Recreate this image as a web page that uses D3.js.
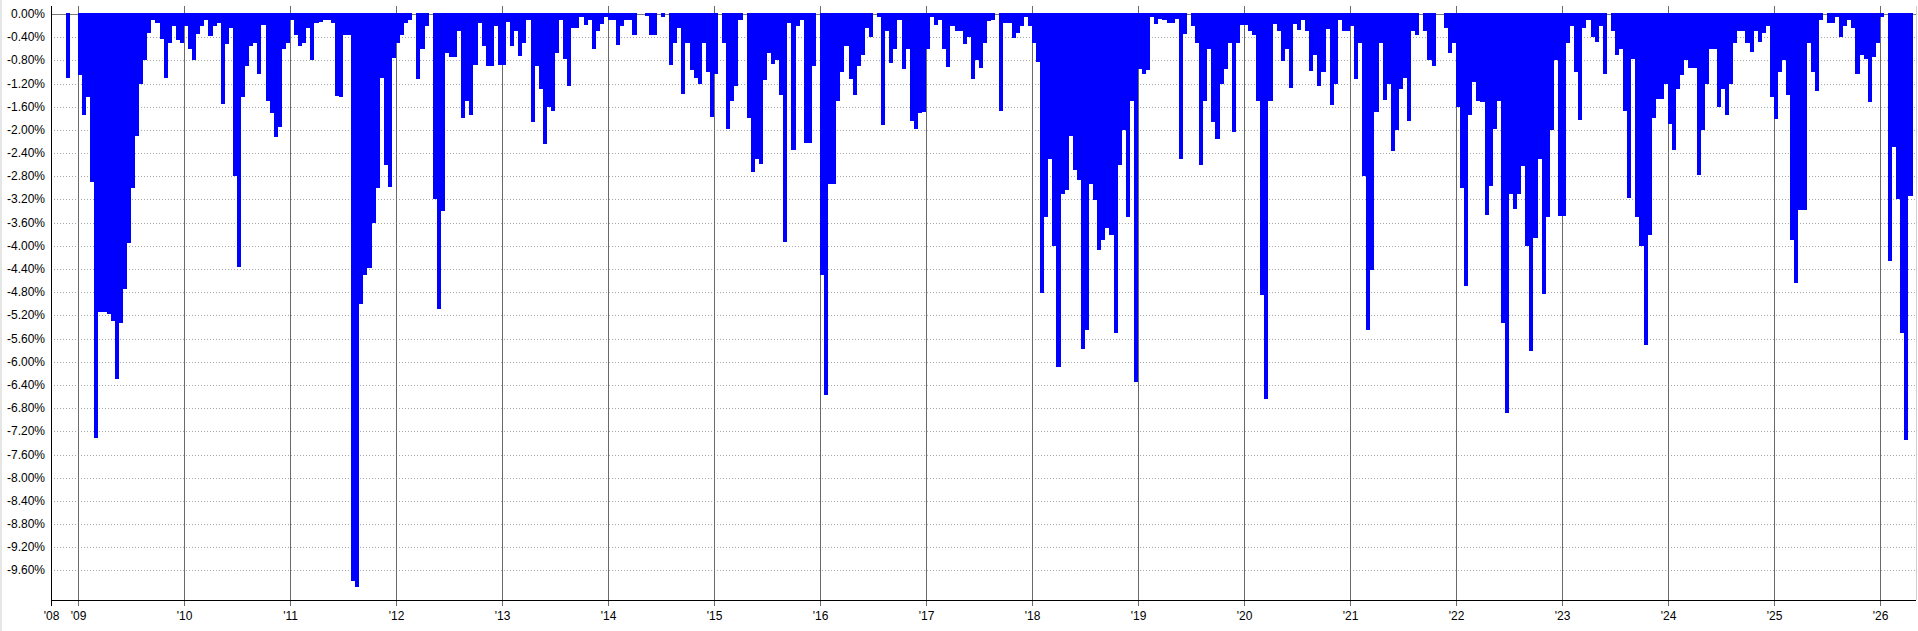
<!DOCTYPE html>
<html>
<head>
<meta charset="utf-8">
<script src="https://cdn.jsdelivr.net/npm/d3@7/dist/d3.min.js"></script>
<style>
  body { margin: 0; background: #fff; }
  svg { display: block; font-family: 'Liberation Sans', Arial, sans-serif; }
</style>
</head>
<body>
<svg id="chart"></svg>
<script>
// drawdown in %, one value per half-month bin (26 bins per year)
const dd2008 = [0,0,0,0,0,0,0,0,0,0,0,0,0,0,0,0,0,0,0,0,0,0,0,-1.10,0,0];
const dd2009 = [-1.05,-1.74,-1.43,-2.89,-7.31,-5.14,-5.14,-5.18,-5.30,-6.29,-5.33,-4.75,-3.95,-3.00,-2.10,-1.20,-0.80,-0.33,-0.10,-0.15,-0.43,-1.10,-0.50,-0.20,-0.45,-0.50];
const dd2010 = [-0.20,-0.60,-0.79,-0.34,-0.20,-0.10,-0.38,-0.20,-0.15,-1.55,-0.52,-0.25,-2.80,-4.36,-1.44,-0.90,-0.55,-0.50,-1.03,-0.19,-1.50,-1.70,-2.12,-1.95,-0.60,-0.50];
const dd2011 = [-0.10,-0.37,-0.55,-0.50,-0.25,-0.80,-0.15,-0.13,-0.10,-0.10,-0.15,-1.41,-1.44,-0.36,-0.37,-9.78,-9.89,-5.00,-4.50,-4.38,-3.60,-3.01,-1.10,-2.60,-2.98,-0.76];
const dd2012 = [-0.50,-0.37,-0.15,-0.10,0,-1.13,-0.60,-0.20,0,-3.20,-5.09,-3.40,-0.68,-0.75,-0.75,-0.30,-1.80,-1.50,-1.75,-0.88,-0.15,-0.55,-0.90,-0.90,-0.20,-0.88];
const dd2013 = [-0.88,-0.13,-0.56,-0.30,-0.73,-0.50,-0.10,-1.87,-0.90,-1.30,-2.25,-1.60,-1.67,-0.67,-0.10,-0.77,-1.25,-0.25,-0.25,-0.05,-0.19,-0.10,-0.60,-0.30,-0.17,-0.05];
const dd2014 = [-0.10,-0.10,-0.53,-0.20,-0.10,-0.10,-0.37,0,0,-0.03,-0.37,-0.37,0,-0.06,0,-0.88,-0.50,-0.25,-1.38,-0.50,-0.97,-1.10,-1.21,-0.50,-1.00,-1.77];
const dd2015 = [-1.04,0,-0.50,-1.99,-1.50,-1.25,-0.10,0,-1.80,-2.72,-2.50,-2.58,-1.14,-0.68,-0.87,-0.80,-1.40,-3.93,-0.15,-2.35,-0.20,-0.10,-2.22,-2.22,-0.89,0];
const dd2016 = [-4.50,-6.58,-2.93,-2.93,-1.50,-1.00,-0.55,-1.13,-1.39,-0.90,-0.70,-0.25,-0.39,0,-0.05,-1.92,-0.30,-0.84,-0.60,-0.10,-0.95,-0.60,-1.84,-1.98,-1.70,-1.69];
const dd2017 = [-0.60,-0.05,-0.19,-0.10,-0.60,-0.91,-0.20,-0.30,-0.30,-0.51,-0.40,-1.12,-0.80,-0.94,-0.50,-0.12,-0.10,0,-1.67,-0.15,-0.15,-0.41,-0.32,-0.20,-0.05,-0.20];
const dd2018 = [-0.50,-0.82,-4.81,-3.50,-2.50,-4.00,-6.09,-3.10,-3.04,-2.10,-2.70,-2.86,-5.78,-5.45,-2.93,-3.21,-4.07,-3.90,-3.69,-3.82,-5.50,-2.60,-2.00,-3.51,-1.50,-6.35];
const dd2019 = [-0.95,-1.04,-0.97,-0.05,-0.18,-0.08,-0.10,-0.15,-0.15,-0.08,-2.50,-0.35,0,-0.20,-0.50,-2.60,-1.50,-0.60,-1.86,-2.16,-1.20,-0.95,-0.50,-2.03,-0.50,-0.19];
const dd2020 = [-0.19,-0.30,-0.37,-1.50,-4.84,-6.64,-1.50,-0.17,-0.30,-0.81,-0.60,-1.28,-0.18,-0.28,-0.10,-0.30,-0.98,-0.70,-1.24,-1.00,-0.26,-1.57,-1.20,-0.10,-0.30,-0.30];
const dd2021 = [-0.20,-1.12,-0.50,-2.80,-5.45,-4.41,-1.69,-0.50,-1.48,-1.20,-2.36,-2.00,-1.29,-1.10,-1.84,-0.30,-0.37,0,-0.29,-0.80,-0.90,0,0,-0.25,-0.67,-0.50];
const dd2022 = [-1.60,-3.00,-4.69,-1.74,-1.18,-1.50,-1.51,-3.47,-2.96,-1.98,-1.50,-5.33,-6.89,-3.10,-3.37,-3.10,-2.63,-4.00,-5.81,-3.86,-2.50,-4.83,-3.50,-2.00,-0.80,-3.49];
const dd2023 = [-3.49,-0.50,-0.20,-1.00,-1.83,-0.25,-0.10,-0.40,-0.49,-0.20,-1.04,0,-0.30,-0.71,-0.60,-1.67,-3.17,-0.77,-3.50,-4.00,-5.71,-3.81,-1.80,-1.46,-1.46,-1.20];
const dd2024 = [-1.89,-2.35,-1.30,-1.06,-0.80,-0.94,-0.94,-2.77,-2.00,-1.20,-0.60,-0.60,-1.61,-1.30,-1.74,-1.20,-0.50,-0.30,-0.30,-0.50,-0.65,-0.30,-0.48,-0.32,-0.20,-1.43];
const dd2025 = [-1.82,-1.00,-0.79,-1.40,-3.90,-4.64,-3.38,-3.38,-0.50,-1.00,-1.32,-0.10,0,-0.15,-0.15,-0.06,-0.39,-0.20,-0.10,-0.24,-1.04,-0.70,-0.77,-1.51,-0.74,-0.50];
const dd2026 = [-0.05,0,-4.27,-2.30,-3.20,-5.50,-7.35,-3.14];

const years = [2008,2009,2010,2011,2012,2013,2014,2015,2016,2017,2018,2019,2020,2021,2022,2023,2024,2025,2026];
const yearLabels = ["'08","'09","'10","'11","'12","'13","'14","'15","'16","'17","'18","'19","'20","'21","'22","'23","'24","'25","'26"];
const yTicks = [0,-0.4,-0.8,-1.2,-1.6,-2.0,-2.4,-2.8,-3.2,-3.6,-4.0,-4.4,-4.8,-5.2,-5.6,-6.0,-6.4,-6.8,-7.2,-7.6,-8.0,-8.4,-8.8,-9.2,-9.6];

const series = [dd2008,dd2009,dd2010,dd2011,dd2012,dd2013,dd2014,dd2015,dd2016,dd2017,dd2018,dd2019,dd2020,dd2021,dd2022,dd2023,dd2024,dd2025,dd2026];
const binsPerYear = 26;

const width = 1918, height = 631;
const plotLeft = 51, plotRight = 1916, plotTop = 6, plotBottom = 600;

const svg = d3.select('#chart')
    .attr('width', width)
    .attr('height', height);

svg.append('rect')
    .attr('width', width).attr('height', height)
    .attr('fill', '#fff');

// thin grey strip on the very left edge
svg.append('rect')
    .attr('x', 0).attr('y', 0)
    .attr('width', 2).attr('height', height)
    .attr('fill', '#e6e6e6');

const x = d3.scaleLinear()
    .domain([2008.7453, 2026.34])
    .range([plotLeft, plotRight])
    .clamp(true);

const y = d3.scaleLinear()
    .domain([-10.11, 0.138])
    .range([plotBottom, plotTop]);

// dotted horizontal grid
svg.append('g')
    .selectAll('line')
    .data(yTicks.filter(d => d !== 0))
    .enter()
    .append('line')
    .attr('x1', plotLeft).attr('x2', plotRight)
    .attr('y1', d => Math.round(y(d)) + 0.5)
    .attr('y2', d => Math.round(y(d)) + 0.5)
    .attr('stroke', '#a8a8a8')
    .attr('stroke-width', 1)
    .attr('stroke-dasharray', '1,2');

// zero line
svg.append('line')
    .attr('x1', plotLeft).attr('x2', plotRight)
    .attr('y1', Math.round(y(0)) + 0.5)
    .attr('y2', Math.round(y(0)) + 0.5)
    .attr('stroke', '#7a7a7a');

// year lines (they go a little below the axis as ticks)
svg.append('g')
    .selectAll('line')
    .data(years.filter(d => x(d) > plotLeft))
    .enter()
    .append('line')
    .attr('x1', d => Math.round(x(d)) + 0.5)
    .attr('x2', d => Math.round(x(d)) + 0.5)
    .attr('y1', plotTop).attr('y2', plotBottom + 6)
    .attr('stroke', '#6a6a6a')
    .attr('stroke-width', 1);

// bars
const bars = [];
series.forEach((vals, k) => {
    vals.forEach((v, i) => {
        if (v === 0) return;
        const t0 = years[k] + i / binsPerYear;
        const t1 = years[k] + (i + 1) / binsPerYear;
        bars.push({t0: t0, t1: t1, v: v});
    });
});

const barTop = Math.round(y(0)) - 1;

svg.append('g')
    .attr('shape-rendering', 'crispEdges')
    .selectAll('rect')
    .data(bars)
    .enter()
    .append('rect')
    .attr('x', d => Math.round(x(d.t0)))
    .attr('width', d => Math.max(0, Math.round(x(d.t1)) - Math.round(x(d.t0))))
    .attr('y', barTop)
    .attr('height', d => Math.round(y(d.v)) - barTop)
    .attr('fill', '#0000ff');

// axes lines
svg.append('line')
    .attr('x1', plotLeft + 0.5).attr('x2', plotLeft + 0.5)
    .attr('y1', plotTop).attr('y2', plotBottom + 6)
    .attr('stroke', '#000');

svg.append('line')
    .attr('x1', plotLeft).attr('x2', plotRight)
    .attr('y1', plotBottom + 0.5).attr('y2', plotBottom + 0.5)
    .attr('stroke', '#000');

svg.append('line')
    .attr('x1', plotRight + 0.5).attr('x2', plotRight + 0.5)
    .attr('y1', plotTop).attr('y2', plotBottom)
    .attr('stroke', '#d0d0d0');

// y labels
svg.append('g')
    .selectAll('text')
    .data(yTicks)
    .enter()
    .append('text')
    .attr('x', plotLeft - 6)
    .attr('y', d => y(d) + 4)
    .attr('text-anchor', 'end')
    .attr('font-size', '12px')
    .attr('fill', '#000')
    .text(d => d.toFixed(2) + '%');

// x labels
svg.append('g')
    .selectAll('text')
    .data(years)
    .enter()
    .append('text')
    .attr('x', d => Math.round(x(d)) + 0.5)
    .attr('y', plotBottom + 20)
    .attr('text-anchor', 'middle')
    .attr('font-size', '12px')
    .attr('fill', '#000')
    .text((d, i) => yearLabels[i]);
</script>
</body>
</html>
